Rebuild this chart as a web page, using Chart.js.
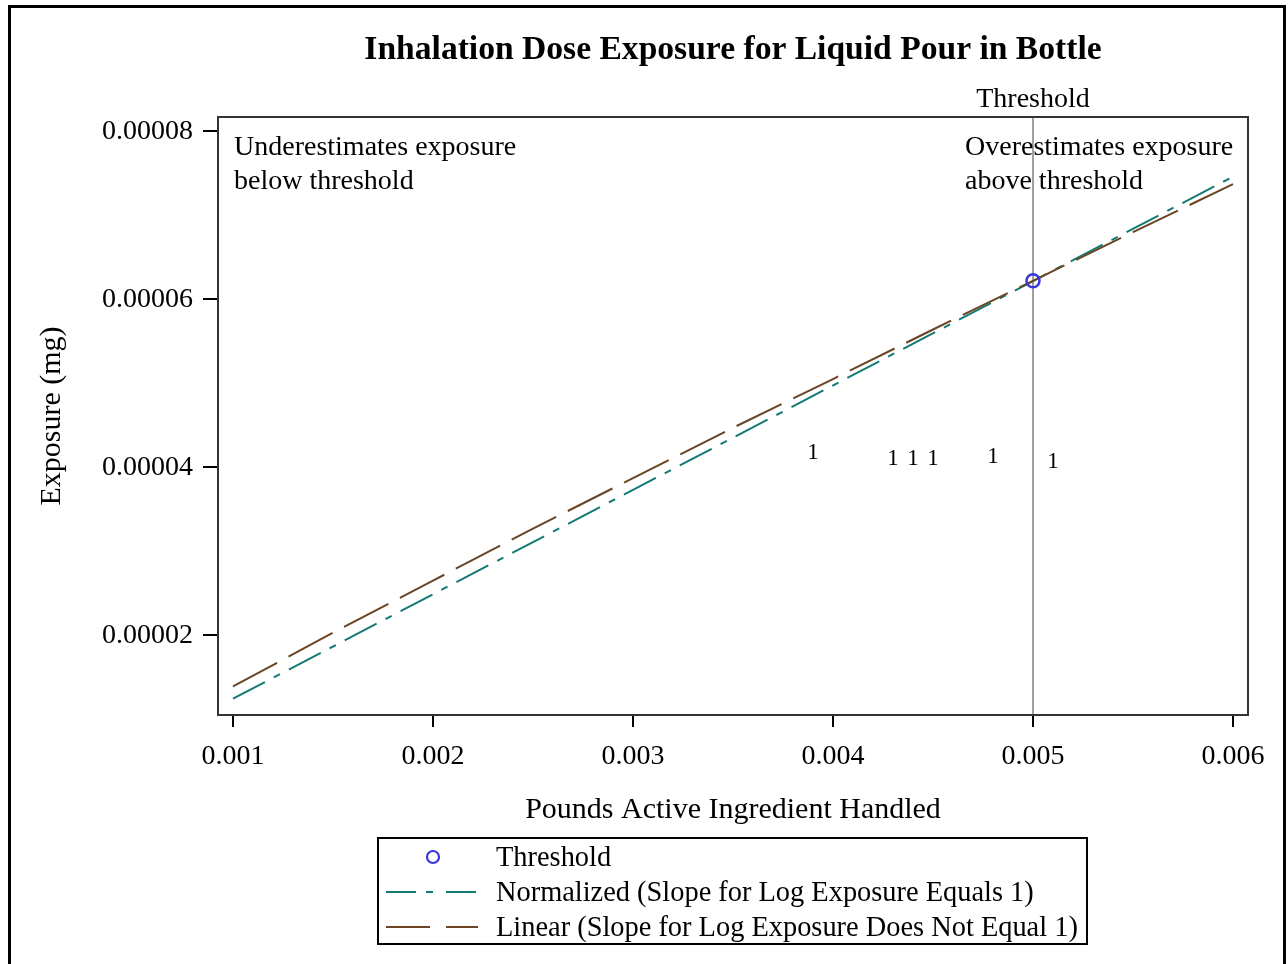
<!DOCTYPE html>
<html><head><meta charset="utf-8">
<script src="https://cdn.jsdelivr.net/npm/chart.js@4/dist/chart.umd.min.js"></script>
<style>html,body{margin:0;padding:0;background:#fff;}canvas{display:block;}</style>
</head><body>
<canvas id="c" width="1288" height="964"></canvas>
<script>
const xTicks = [0.001, 0.002, 0.003, 0.004, 0.005, 0.006];
const yTicks = [0.00002, 0.00004, 0.00006, 0.00008];
const normalizedX = [0.001, 0.006];
const normalizedY = [0.00001244, 0.0000746];
const linearX = [0.001, 0.0015, 0.002, 0.0025, 0.003, 0.0035, 0.004, 0.0045, 0.005, 0.0055, 0.006];
const linearY = [0.0000139, 0.0000203, 0.0000265, 0.0000327, 0.0000387, 0.0000447, 0.0000505, 0.0000564, 0.0000622, 0.0000680, 0.0000737];
const thresholdX = [0.005];
const thresholdY = [0.0000622];
const markX = [0.0039, 0.0043, 0.0044, 0.0045, 0.0048, 0.0051];
const markY = [0.0000418, 0.0000411, 0.0000411, 0.0000411, 0.0000413, 0.0000407];
const markLabels = ['1', '1', '1', '1', '1', '1'];
const legendLabels = ['Threshold', 'Normalized (Slope for Log Exposure Equals 1)', 'Linear (Slope for Log Exposure Does Not Equal 1)'];

const SERIF = '"Liberation Serif", "Times New Roman", serif';
const TEAL = '#127a72';
const BROWN = '#6b4423';
const BLUE = '#3a36e0';
const NORM_DASH = [36, 10, 7, 10];
const LIN_DASH = [50, 13];

const pts = (xs, ys) => xs.map((x, i) => ({x: x, y: ys[i]}));

const decor = {
  id: 'decor',
  beforeDatasetsDraw(chart) {
    const ctx = chart.ctx, a = chart.chartArea, xs = chart.scales.x;
    const tx = xs.getPixelForValue(thresholdX[0]);
    ctx.save();
    ctx.strokeStyle = '#a0a0a0'; ctx.lineWidth = 2;
    ctx.beginPath(); ctx.moveTo(tx, a.top); ctx.lineTo(tx, a.bottom); ctx.stroke();
    ctx.restore();
  },
  afterDatasetsDraw(chart) {
    const ctx = chart.ctx, a = chart.chartArea, xs = chart.scales.x;
    ctx.save();
    const meta = chart.getDatasetMeta(3);
    ctx.fillStyle = '#000'; ctx.font = '23px ' + SERIF;
    ctx.textAlign = 'center'; ctx.textBaseline = 'middle';
    meta.data.forEach((el, i) => ctx.fillText(markLabels[i], el.x, el.y + 1));
    ctx.strokeStyle = '#333'; ctx.lineWidth = 2;
    ctx.strokeRect(a.left, a.top, a.right - a.left, a.bottom - a.top);
    ctx.strokeStyle = '#000'; ctx.lineWidth = 3;
    ctx.strokeRect(9.5, 6.5, 1275, 1000);
    const cx = (a.left + a.right) / 2;
    ctx.fillStyle = '#000';
    ctx.textAlign = 'center'; ctx.textBaseline = 'middle';
    ctx.font = 'bold 33.6px ' + SERIF;
    ctx.fillText('Inhalation Dose Exposure for Liquid Pour in Bottle', cx, 50);
    const tx = xs.getPixelForValue(thresholdX[0]);
    ctx.font = '28px ' + SERIF;
    ctx.fillText('Threshold', tx, 100);
    ctx.textAlign = 'left';
    ctx.fillText('Underestimates exposure', a.left + 16, 148);
    ctx.fillText('below threshold', a.left + 16, 182);
    ctx.fillText('Overestimates exposure', tx - 68, 148);
    ctx.fillText('above threshold', tx - 68, 182);
    ctx.textAlign = 'center';
    ctx.font = '30px ' + SERIF;
    ctx.fillText('Pounds Active Ingredient Handled', cx, 810);
    ctx.save();
    ctx.translate(52, (a.top + a.bottom) / 2);
    ctx.rotate(-Math.PI / 2);
    ctx.fillText('Exposure (mg)', 0, 0);
    ctx.restore();
    ctx.strokeStyle = '#000'; ctx.lineWidth = 2;
    ctx.strokeRect(378, 838, 709, 106);
    ctx.font = '28.4px ' + SERIF; ctx.textAlign = 'left';
    const rows = [857, 892, 927];
    legendLabels.forEach((t, i) => ctx.fillText(t, 496, rows[i] + 2));
    ctx.strokeStyle = BLUE; ctx.lineWidth = 2.2;
    ctx.beginPath(); ctx.arc(433, rows[0], 6, 0, Math.PI * 2); ctx.stroke();
    ctx.lineWidth = 2;
    ctx.strokeStyle = TEAL; ctx.setLineDash([30, 10, 7, 13]);
    ctx.beginPath(); ctx.moveTo(386, rows[1]); ctx.lineTo(478, rows[1]); ctx.stroke();
    ctx.strokeStyle = BROWN; ctx.setLineDash([44, 16]);
    ctx.beginPath(); ctx.moveTo(386, rows[2]); ctx.lineTo(478, rows[2]); ctx.stroke();
    ctx.restore();
  }
};

new Chart(document.getElementById('c'), {
  type: 'scatter',
  data: {
    datasets: [
      {label: legendLabels[0], data: pts(thresholdX, thresholdY), pointRadius: 6.5, pointBorderWidth: 2.5,
       pointBorderColor: BLUE, pointBackgroundColor: 'rgba(0,0,0,0)', showLine: false},
      {label: legendLabels[2], data: pts(linearX, linearY), showLine: true, borderColor: BROWN, borderWidth: 2,
       borderDash: LIN_DASH, pointRadius: 0, fill: false, tension: 0},
      {label: legendLabels[1], data: pts(normalizedX, normalizedY), showLine: true, borderColor: TEAL, borderWidth: 2,
       borderDash: NORM_DASH, pointRadius: 0, fill: false},
      {label: 'marks', data: pts(markX, markY), pointRadius: 0, showLine: false}
    ]
  },
  options: {
    responsive: false, animation: false, devicePixelRatio: 1,
    layout: {padding: {left: 0, top: 117, right: 40, bottom: 149}},
    plugins: {legend: {display: false}, tooltip: {enabled: false}, title: {display: false}},
    scales: {
      x: {
        type: 'linear', min: 0.000925, max: 0.006075,
        afterBuildTicks: s => { s.ticks = xTicks.map(v => ({value: v})); },
        afterFit: s => { s.height = 100; },
        ticks: {color: '#000', font: {family: SERIF, size: 28}, padding: 13, maxRotation: 0,
                callback: v => v.toFixed(3)},
        grid: {drawOnChartArea: false, drawTicks: true, tickLength: 12, color: '#000', lineWidth: 2},
        border: {display: true, color: '#333', width: 2}
      },
      y: {
        type: 'linear', min: 0.0000105, max: 0.0000817,
        afterBuildTicks: s => { s.ticks = yTicks.map(v => ({value: v})); },
        afterFit: s => { s.width = 218; },
        ticks: {color: '#000', font: {family: SERIF, size: 28}, padding: 10,
                callback: v => v.toFixed(5)},
        grid: {drawOnChartArea: false, drawTicks: true, tickLength: 15, color: '#000', lineWidth: 2},
        border: {display: true, color: '#333', width: 2}
      }
    }
  },
  plugins: [decor]
});
</script>
</body></html>
